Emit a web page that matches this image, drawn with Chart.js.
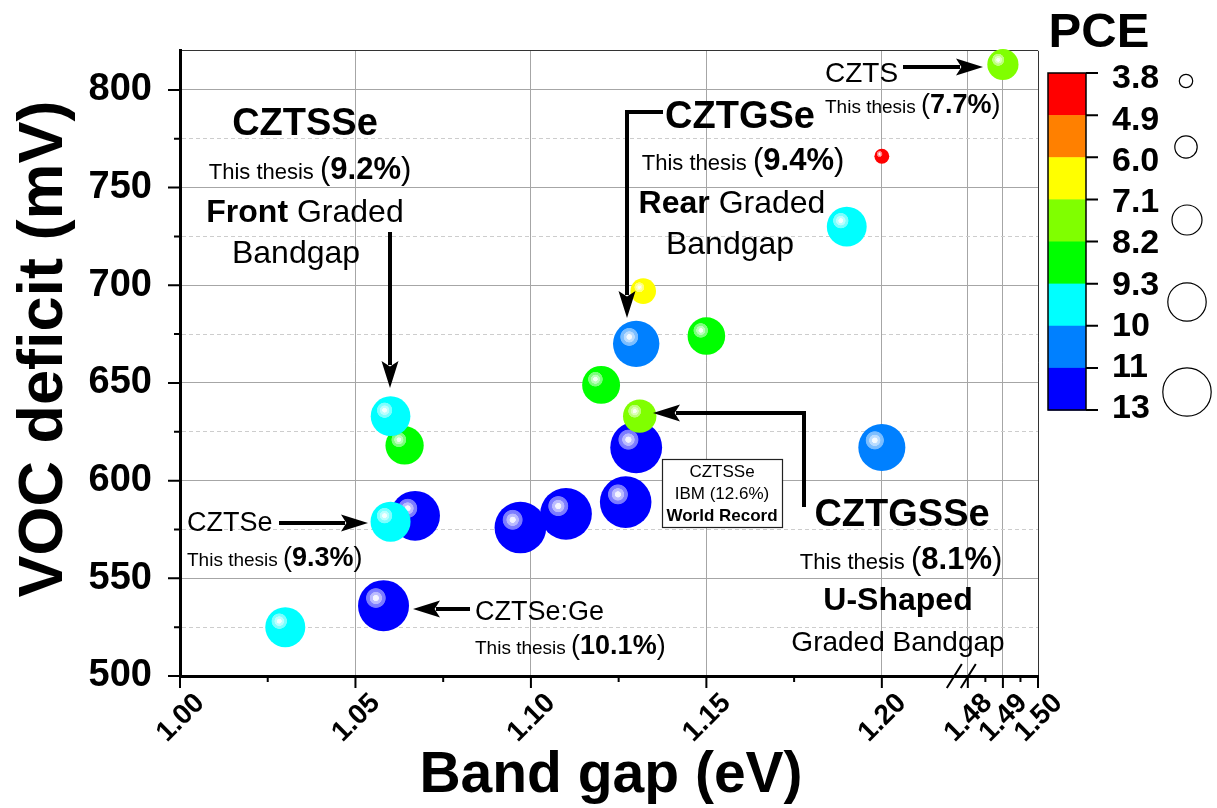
<!DOCTYPE html>
<html>
<head>
<meta charset="utf-8">
<script src="https://cdn.jsdelivr.net/npm/chart.js@4.4.1/dist/chart.umd.min.js"></script>
<style>
  html, body { margin: 0; padding: 0; background: #fff; }
  canvas { display: block; }
</style>
</head>
<body>
<canvas id="chart" width="1217" height="808"></canvas>
<script>
// Devices: band gap (eV), VOC deficit (mV) and efficiency PCE (%), listed in drawing order
const bandGap    = [1.097, 1.110, 1.127, 1.130, 1.067, 1.058, 1.130, 1.200, 1.064, 1.060, 1.060, 1.030, 1.190, 1.120, 1.150, 1.131, 1.132, 1.200, 1.490];
const vocDeficit = [576, 583, 589, 617, 582, 536, 670, 617, 618, 633, 579, 525, 730, 649, 674, 633, 697, 766, 813];
const pce        = [12.0, 12.2, 11.8, 12.6, 9.9, 10.1, 9.4, 9.5, 8.8, 9.2, 9.3, 9.3, 9.25, 8.7, 8.6, 8.1, 6.5, 4.0, 7.7];

// Axis ticks
const xTickValues = [1.00, 1.05, 1.10, 1.15, 1.20, 1.48, 1.49, 1.50];
const xTickLabels = ['1.00', '1.05', '1.10', '1.15', '1.20', '1.48', '1.49', '1.50'];
const xMinorTicks = [1.025, 1.075, 1.125, 1.175, 1.485, 1.495];
const yTickValues = [500, 550, 600, 650, 700, 750, 800];
const yMinorTicks = [525, 575, 625, 675, 725, 775];
const yTop = 820;

// PCE colour scale
const pceTickLabels = ['3.8', '4.9', '6.0', '7.1', '8.2', '9.3', '10', '11', '13'];
const pceColours    = ['#ff0000', '#ff8000', '#ffff00', '#80ff00', '#00ff00', '#00ffff', '#0080ff', '#0000ff'];
const colourLevels  = [3.8, 4.9, 6.0, 7.1, 8.2, 9.1, 9.35, 9.8, 13];

// Broken x axis: the 1.48-1.50 eV segment sits right after 1.2245 eV
const breakFrom = 1.4, breakShift = 0.2555;
const axisX = v => (v >= breakFrom ? v - breakShift : v);

// Bubble radius (px) as a function of PCE
const sizeStops = [[3.8, 7], [6.5, 12.8], [7.7, 15.6], [8.1, 16.7], [8.6, 18.8], [9.3, 20], [9.4, 23.2], [10.1, 25.5], [13, 26]];
function radiusFor(p) {
  if (p <= sizeStops[0][0]) return sizeStops[0][1];
  for (let i = 1; i < sizeStops.length; i++) {
    const [p0, r0] = sizeStops[i - 1], [p1, r1] = sizeStops[i];
    if (p <= p1) return r0 + (r1 - r0) * (p - p0) / (p1 - p0);
  }
  return sizeStops[sizeStops.length - 1][1];
}
function colourFor(p) {
  for (let i = 1; i < colourLevels.length - 1; i++) if (p < colourLevels[i]) return pceColours[i - 1];
  return pceColours[pceColours.length - 1];
}
function hexMix(hex, t) { // blend with white
  const n = parseInt(hex.slice(1), 16);
  const c = [(n >> 16) & 255, (n >> 8) & 255, n & 255].map(v => Math.round(v + (255 - v) * t));
  return `rgb(${c[0]},${c[1]},${c[2]})`;
}
const pct = i => pce[i].toFixed(1) + '%';

const FAM = '"Liberation Sans", Arial, Helvetica, sans-serif';
const font = (size, bold) => `${bold ? 'bold ' : ''}${size}px ${FAM}`;

const points = bandGap.map((b, i) => ({ x: axisX(b), y: vocDeficit[i], r: radiusFor(pce[i]) }));

// Glossy sphere fill: concentric highlight rings up and to the left of the centre
function sphereFill(ctx) {
  const chart = ctx.chart;
  const i = ctx.dataIndex;
  const base = colourFor(pce[i]);
  const xs = chart.scales.x, ys = chart.scales.y;
  if (!xs || !ys || ctx.raw === undefined) return base;
  const px = xs.getPixelForValue(ctx.raw.x), py = ys.getPixelForValue(ctx.raw.y);
  if (!isFinite(px) || !isFinite(py)) return base;
  const r = ctx.raw.r;
  const hx = px - 0.3 * r, hy = py - 0.3 * r, R = 1.5 * r;
  const g = chart.ctx.createRadialGradient(hx, hy, 0, hx, hy, R);
  const s = v => Math.min(1, v * r / R);
  g.addColorStop(0, hexMix(base, 0.97));
  g.addColorStop(s(0.11), hexMix(base, 0.95));
  g.addColorStop(s(0.13), hexMix(base, 0.74));
  g.addColorStop(s(0.23), hexMix(base, 0.72));
  g.addColorStop(s(0.25), hexMix(base, 0.5));
  g.addColorStop(s(0.37), hexMix(base, 0.47));
  g.addColorStop(s(0.40), base);
  g.addColorStop(1, base);
  return g;
}

const notes = [
  { x: 305, y: 135, align: 'center', parts: [['CZTSSe', 38, true]] },
  { x: 310, y: 179, align: 'center', parts: [['This thesis ', 22], ['(', 31], [pct(9), 31, true], [')', 31]] },
  { x: 305, y: 222, align: 'center', parts: [['Front ', 32, true], ['Graded', 32]] },
  { x: 296, y: 263, align: 'center', parts: [['Bandgap', 32]] },

  { x: 740, y: 128, align: 'center', parts: [['CZTGSe', 38, true]] },
  { x: 743, y: 170, align: 'center', parts: [['This thesis ', 22], ['(', 31], [pct(6), 31, true], [')', 31]] },
  { x: 732, y: 213, align: 'center', parts: [['Rear ', 32, true], ['Graded', 32]] },
  { x: 730, y: 254, align: 'center', parts: [['Bandgap', 32]] },

  { x: 825, y: 82, align: 'left', parts: [['CZTS', 28]] },
  { x: 825, y: 113, align: 'left', parts: [['This thesis ', 19], ['(', 27], [pct(18), 27, true], [')', 27]] },

  { x: 902, y: 526, align: 'center', parts: [['CZTGSSe', 38, true]] },
  { x: 901, y: 569, align: 'center', parts: [['This thesis ', 22], ['(', 31], [pct(15), 31, true], [')', 31]] },
  { x: 898, y: 610, align: 'center', parts: [['U-Shaped', 32, true]] },
  { x: 898, y: 651, align: 'center', parts: [['Graded Bandgap', 28]] },

  { x: 187, y: 531, align: 'left', parts: [['CZTSe', 27]] },
  { x: 187, y: 566, align: 'left', parts: [['This thesis ', 19], ['(', 27], [pct(10), 27, true], [')', 27]] },
  { x: 475, y: 620, align: 'left', parts: [['CZTSe:Ge', 27]] },
  { x: 475, y: 654, align: 'left', parts: [['This thesis ', 19], ['(', 27], [pct(5), 27, true], [')', 27]] },
];

const arrows = [
  [[390, 232], [390, 388]],
  [[663, 112], [627, 112], [627, 318]],
  [[903, 67], [983, 67]],
  [[804, 507], [804, 413], [653, 413]],
  [[279, 523], [368, 523]],
  [[470, 609], [413, 609]],
];

function drawRuns(c, n) {
  c.textBaseline = 'alphabetic';
  c.textAlign = 'left';
  let total = 0;
  const widths = n.parts.map(([t, s, b]) => { c.font = font(s, b); const w = c.measureText(t).width; total += w; return w; });
  let x = n.align === 'center' ? n.x - total / 2 : n.x;
  n.parts.forEach(([t, s, b], k) => { c.font = font(s, b); c.fillText(t, x, n.y); x += widths[k]; });
}

function drawArrow(c, pts) {
  const head = 27, half = 8.5, n = pts.length;
  const [x1, y1] = pts[n - 2], [x2, y2] = pts[n - 1];
  const a = Math.atan2(y2 - y1, x2 - x1), ca = Math.cos(a), sa = Math.sin(a);
  const bx = x2 - head * ca, by = y2 - head * sa;
  c.save();
  c.strokeStyle = '#000'; c.fillStyle = '#000';
  c.lineWidth = 4; c.lineJoin = 'miter'; c.lineCap = 'butt';
  c.beginPath();
  c.moveTo(pts[0][0], pts[0][1]);
  for (let i = 1; i < n - 1; i++) c.lineTo(pts[i][0], pts[i][1]);
  c.lineTo(bx + 4 * ca, by + 4 * sa);
  c.stroke();
  c.beginPath();
  c.moveTo(x2, y2);
  c.lineTo(bx - half * sa, by + half * ca);
  c.lineTo(x2 - head * 0.8 * ca, y2 - head * 0.8 * sa);
  c.lineTo(bx + half * sa, by - half * ca);
  c.closePath();
  c.fill();
  c.restore();
}

const decorations = {
  id: 'decorations',
  afterDraw(chart) {
    const c = chart.ctx, xs = chart.scales.x, ys = chart.scales.y;
    const area = chart.chartArea;
    c.save();
    c.fillStyle = '#000';
    c.strokeStyle = '#000';

    // tick marks (outward), major and minor
    c.lineWidth = 2;
    c.beginPath();
    xTickValues.forEach(v => { const p = xs.getPixelForValue(axisX(v)); c.moveTo(p, area.bottom); c.lineTo(p, area.bottom + 12); });
    xMinorTicks.forEach(v => { const p = xs.getPixelForValue(axisX(v)); c.moveTo(p, area.bottom); c.lineTo(p, area.bottom + 6); });
    yTickValues.forEach(v => { const p = ys.getPixelForValue(v); c.moveTo(area.left - 12, p); c.lineTo(area.left, p); });
    yMinorTicks.forEach(v => { const p = ys.getPixelForValue(v); c.moveTo(area.left - 6, p); c.lineTo(area.left, p); });
    c.stroke();

    // axis break marks
    const bp = xs.getPixelForValue(axisX(1.48));
    c.lineWidth = 2;
    c.beginPath();
    c.moveTo(bp - 21, area.bottom + 12); c.lineTo(bp - 6, area.bottom - 12);
    c.moveTo(bp - 7, area.bottom + 12); c.lineTo(bp + 8, area.bottom - 12);
    c.stroke();

    // axis titles
    c.font = font(57, true);
    c.textAlign = 'center'; c.textBaseline = 'alphabetic';
    c.fillText('Band gap (eV)', 611, 792);
    c.save();
    c.translate(62, 349);
    c.rotate(-Math.PI / 2);
    c.font = font(63, true);
    c.fillText('VOC deficit (mV)', 0, 0);
    c.restore();

    // annotations
    arrows.forEach(p => drawArrow(c, p));
    c.fillStyle = '#000';
    notes.forEach(n => drawRuns(c, n));

    // IBM record box
    c.fillStyle = '#fff';
    c.fillRect(662, 459, 120, 68);
    c.strokeStyle = '#222'; c.lineWidth = 1.2;
    c.strokeRect(662.5, 459.5, 120, 68);
    c.fillStyle = '#000';
    c.textAlign = 'center';
    c.font = font(17, false); c.fillText('CZTSSe', 722, 477);
    c.fillText('IBM (' + pct(3) + ')', 722, 499);
    c.font = font(17, true); c.fillText('World Record', 722, 521);

    // PCE colour bar
    const bx0 = 1048, bx1 = 1086, by0 = 73, by1 = 410;
    const bh = (by1 - by0) / pceColours.length;
    pceColours.forEach((col, k) => { c.fillStyle = col; c.fillRect(bx0, by0 + k * bh, bx1 - bx0, bh + 0.5); });
    c.strokeStyle = '#000'; c.lineWidth = 1.5;
    c.strokeRect(bx0, by0, bx1 - bx0, by1 - by0);
    c.lineWidth = 2;
    c.beginPath();
    pceTickLabels.forEach((_, k) => { const y = by0 + k * bh; c.moveTo(bx1, y); c.lineTo(bx1 + 12, y); });
    c.stroke();
    c.fillStyle = '#000';
    c.font = font(34, true);
    c.textAlign = 'left'; c.textBaseline = 'middle';
    pceTickLabels.forEach((t, k) => c.fillText(t, 1112, 79 + k * 41.25));
    c.font = font(49, true);
    c.textAlign = 'center'; c.textBaseline = 'alphabetic';
    c.fillText('PCE', 1099, 47);

    // size key
    c.lineWidth = 1.2; c.strokeStyle = '#000';
    [[1186, 81, 6.7], [1186, 147, 11.2], [1187, 220, 15], [1187, 302, 19.2], [1187, 392, 24.2]].forEach(([x, y, r]) => {
      c.beginPath(); c.arc(x, y, r, 0, Math.PI * 2); c.stroke();
    });
    c.restore();
  }
};

new Chart(document.getElementById('chart'), {
  type: 'bubble',
  data: {
    datasets: [{
      data: points,
      backgroundColor: sphereFill,
      borderWidth: 0,
      radius: 0,
      hoverRadius: 0,
      clip: false
    }]
  },
  options: {
    responsive: false,
    animation: false,
    devicePixelRatio: 1,
    events: [],
    layout: { padding: { left: 0, top: 48, right: 179, bottom: 0 } },
    plugins: { legend: { display: false }, tooltip: { enabled: false } },
    scales: {
      x: {
        type: 'linear',
        min: axisX(1.00),
        max: axisX(1.50),
        afterFit: s => { s.height = 132; },
        afterBuildTicks: s => { s.ticks = xTickValues.map(v => ({ value: axisX(v) })); },
        ticks: {
          autoSkip: false,
          minRotation: 45,
          maxRotation: 45,
          padding: 11,
          labelOffset: 20,
          color: '#000',
          font: { family: FAM, size: 28, weight: 'bold' },
          callback: (v, i) => xTickLabels[i]
        },
        grid: {
          drawTicks: false,
          lineWidth: 1,
          color: ctx => {
            const v = ctx.tick ? ctx.tick.value : null;
            if (v === axisX(1.00)) return 'rgba(0,0,0,0)';
            if (v === axisX(1.50)) return '#333';
            return '#a6a6a6';
          }
        },
        border: { color: '#000', width: 3 }
      },
      y: {
        type: 'linear',
        min: yTickValues[0],
        max: yTop,
        afterFit: s => { s.width = 180; },
        afterBuildTicks: s => {
          s.ticks = yTickValues.concat(yMinorTicks).concat([yTop]).sort((a, b) => a - b).map(v => ({ value: v }));
        },
        ticks: {
          autoSkip: false,
          padding: 28,
          color: '#000',
          font: { family: FAM, size: 38, weight: 'bold' },
          callback: v => (yTickValues.includes(v) ? String(v) : '')
        },
        grid: {
          drawTicks: false,
          lineWidth: 1,
          color: ctx => {
            const v = ctx.tick ? ctx.tick.value : null;
            if (v === yTop) return '#333';
            if (v === yTickValues[0]) return 'rgba(0,0,0,0)';
            return yTickValues.includes(v) ? '#a6a6a6' : '#cdcdcd';
          }
        },
        border: {
          color: '#000',
          width: 3,
          dash: ctx => (ctx.tick && yMinorTicks.includes(ctx.tick.value) ? [4, 3] : [])
        }
      }
    }
  },
  plugins: [decorations]
});
</script>
</body>
</html>
